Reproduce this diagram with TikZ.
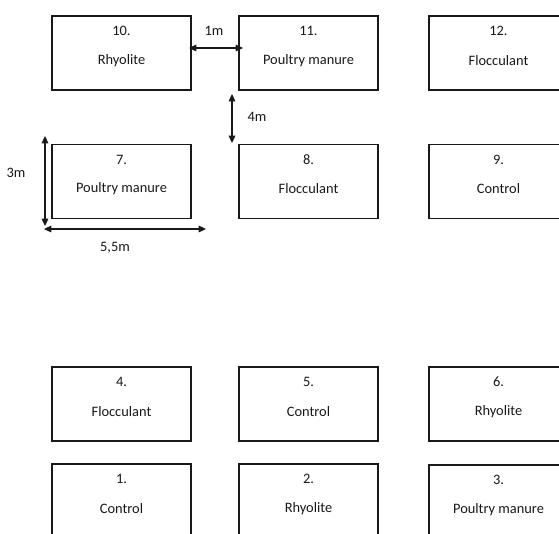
\documentclass[tikz,border=0pt]{standalone}
\usepackage{fontspec}
\setmainfont{Carlito}
\usepackage{tikz}
\usetikzlibrary{arrows.meta}

\begin{document}
\begin{tikzpicture}[x=0.75pt,y=-0.75pt,plot/.style={rectangle,draw=black!90,line width=1.4pt,fill=white,minimum width=104pt,minimum height=55.5pt,inner sep=0pt},num/.style={font=\fontsize{10.8}{12}\selectfont,text=black!90,yshift=16.5pt},lab/.style={font=\fontsize{10.8}{12}\selectfont,text=black!90,yshift=-5.5pt},dim/.style={line width=0.8pt,draw=black!90,{Triangle[length=5.5pt,width=5pt]}-{Triangle[length=5.5pt,width=5pt]}},dimlab/.style={font=\fontsize{10.8}{12}\selectfont,text=black!90}]
\path[use as bounding box,clip] (0,0) rectangle (559,533);
\fill[white] (0,0) rectangle (559,533);
\coordinate (P10) at (121.5,53);
\coordinate (P11) at (308.5,53);
\coordinate (P12) at (498.5,53);
\coordinate (P7) at (121.5,181.5);
\coordinate (P8) at (308.5,181.5);
\coordinate (P9) at (498.5,181.5);
\coordinate (P4) at (121.5,404);
\coordinate (P5) at (308.5,404);
\coordinate (P6) at (498.5,404);
\coordinate (P1) at (121.5,501);
\coordinate (P2) at (308.5,501);
\coordinate (P3) at (498.5,502);
\node[plot] (b10) at (P10) {};
\node[num] (n10) at (P10) {10.};
\node[lab] (l10) at (P10) {Rhyolite};
\node[plot] (b11) at (P11) {};
\node[num] (n11) at (P11) {11.};
\node[lab] (l11) at (P11) {Poultry manure};
\node[plot] (b12) at (P12) {};
\node[num] (n12) at (P12) {12.};
\node[lab] (l12) at (P12) {Flocculant};
\node[plot] (b7) at (P7) {};
\node[num] (n7) at (P7) {7.};
\node[lab] (l7) at (P7) {Poultry manure};
\node[plot] (b8) at (P8) {};
\node[num] (n8) at (P8) {8.};
\node[lab] (l8) at (P8) {Flocculant};
\node[plot] (b9) at (P9) {};
\node[num] (n9) at (P9) {9.};
\node[lab] (l9) at (P9) {Control};
\node[plot] (b4) at (P4) {};
\node[num] (n4) at (P4) {4.};
\node[lab] (l4) at (P4) {Flocculant};
\node[plot] (b5) at (P5) {};
\node[num] (n5) at (P5) {5.};
\node[lab] (l5) at (P5) {Control};
\node[plot] (b6) at (P6) {};
\node[num] (n6) at (P6) {6.};
\node[lab] (l6) at (P6) {Rhyolite};
\node[plot] (b1) at (P1) {};
\node[num] (n1) at (P1) {1.};
\node[lab] (l1) at (P1) {Control};
\node[plot] (b2) at (P2) {};
\node[num] (n2) at (P2) {2.};
\node[lab] (l2) at (P2) {Rhyolite};
\node[plot] (b3) at (P3) {};
\node[num] (n3) at (P3) {3.};
\node[lab] (l3) at (P3) {Poultry manure};
% spacing marks
\coordinate (g1a) at (189,48);
\coordinate (g1b) at (243,48);
\coordinate (g4a) at (232,94);
\coordinate (g4b) at (232,143);
\coordinate (h3a) at (45,136);
\coordinate (h3b) at (45,226);
\coordinate (w5a) at (44,229);
\coordinate (w5b) at (206,229);
\draw[dim] (g1a) -- (g1b);
\draw[dim] (g4a) -- (g4b);
\draw[dim] (h3a) -- (h3b);
\draw[dim] (w5a) -- (w5b);
\node[dimlab] (t1) at (214,31) {1m};
\node[dimlab] (t4) at (257,117) {4m};
\node[dimlab] (t3) at (16,173) {3m};
\node[dimlab] (t5) at (115,248) {5,5m};
\end{tikzpicture}
\end{document}
